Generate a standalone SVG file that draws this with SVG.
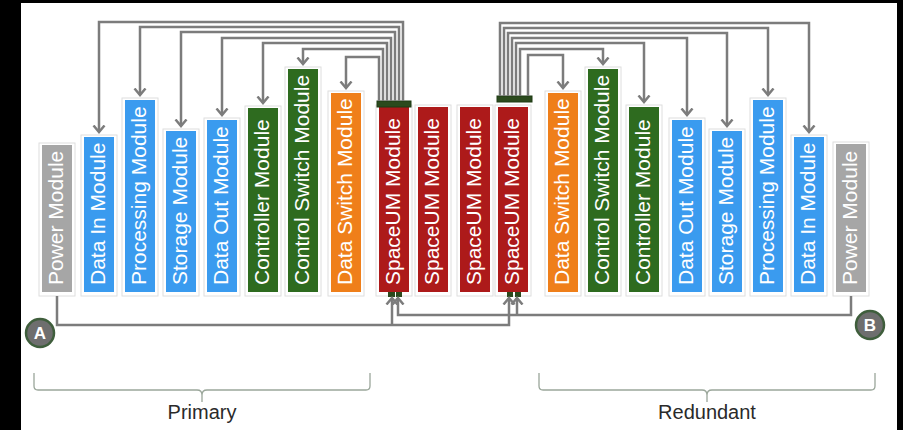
<svg xmlns="http://www.w3.org/2000/svg" width="903" height="430" viewBox="0 0 903 430">
  <defs>
    <style>
      .card { fill: #ffffff; stroke: #dedede; stroke-width: 1; }
      .power { fill: #a6a6a6; }
      .blue { fill: #3a9bef; }
      .green { fill: #2e6b1f; }
      .orange { fill: #ef7f1a; }
      .red { fill: #ad1a1a; }
      .lbl { font-family: "Liberation Sans", Arial, sans-serif; font-size: 21px; fill: #ffffff; }
      .wire { fill: none; stroke: #7c7c7c; stroke-width: 2.5; stroke-linejoin: miter; }
      .arrow { marker-end: url(#chev); }
      .bus { fill: #2b4a1d; stroke: #1f3a14; stroke-width: 1; }
      .pin { fill: #2b4a1d; }
      .badge { fill: #6e6e6e; stroke: #3f5e3c; stroke-width: 2.5; }
      .badge-t { font-family: "Liberation Sans", Arial, sans-serif; font-size: 17px; font-weight: bold; fill: #ffffff; text-anchor: middle; }
      .brace { fill: none; stroke: #9aa69a; stroke-width: 1.3; }
      .cap { font-family: "Liberation Sans", Arial, sans-serif; font-size: 20px; fill: #2a2a2a; text-anchor: middle; }
    </style>
    <marker id="chev" markerUnits="userSpaceOnUse" markerWidth="14" markerHeight="14" refX="7" refY="7" orient="auto" viewBox="0 0 14 14">
      <path d="M0.5,1.5 L7,7 L0.5,12.5" fill="none" stroke="#7c7c7c" stroke-width="2.5"/>
    </marker>
  </defs>

  <!-- frame -->
  <rect x="0" y="0" width="903" height="430" fill="#000000"/>
  <rect x="21" y="3" width="876" height="427" fill="#ffffff"/>

  <!-- Primary side modules -->
  <g id="power-a">
    <rect class="card" x="39" y="143" width="36" height="153"/>
    <rect class="power" x="42" y="145" width="30" height="147"/>
    <text class="lbl" transform="translate(63,285) rotate(-90)">Power Module</text>
  </g>
  <g id="data-in-a">
    <rect class="card" x="81" y="135" width="36" height="161"/>
    <rect class="blue" x="84" y="137" width="30" height="155"/>
    <text class="lbl" transform="translate(105,285) rotate(-90)">Data In Module</text>
  </g>
  <g id="processing-a">
    <rect class="card" x="122" y="98" width="36" height="198"/>
    <rect class="blue" x="125" y="100" width="30" height="192"/>
    <text class="lbl" transform="translate(146,285) rotate(-90)">Processing Module</text>
  </g>
  <g id="storage-a">
    <rect class="card" x="163" y="129" width="36" height="167"/>
    <rect class="blue" x="166" y="131" width="30" height="161"/>
    <text class="lbl" transform="translate(187,285) rotate(-90)">Storage Module</text>
  </g>
  <g id="data-out-a">
    <rect class="card" x="204" y="118" width="36" height="178"/>
    <rect class="blue" x="207" y="120" width="30" height="172"/>
    <text class="lbl" transform="translate(228,285) rotate(-90)">Data Out Module</text>
  </g>
  <g id="controller-a">
    <rect class="card" x="245" y="106" width="36" height="190"/>
    <rect class="green" x="248" y="108" width="30" height="184"/>
    <text class="lbl" transform="translate(269,285) rotate(-90)">Controller Module</text>
  </g>
  <g id="control-switch-a">
    <rect class="card" x="285" y="67" width="36" height="229"/>
    <rect class="green" x="288" y="69" width="30" height="223"/>
    <text class="lbl" transform="translate(309,285) rotate(-90)">Control Switch Module</text>
  </g>
  <g id="data-switch-a">
    <rect class="card" x="328" y="91" width="36" height="205"/>
    <rect class="orange" x="331" y="93" width="30" height="199"/>
    <text class="lbl" transform="translate(352,285) rotate(-90)">Data Switch Module</text>
  </g>

  <!-- SpaceUM modules -->
  <g id="spaceum-1">
    <rect class="card" x="376" y="105" width="36" height="191"/>
    <rect class="red" x="379" y="107" width="30" height="185"/>
    <rect class="bus" x="377" y="101" width="34" height="6"/>
    <rect class="pin" x="388" y="292" width="7" height="5"/>
    <rect class="pin" x="396" y="292" width="6" height="5"/>
    <text class="lbl" transform="translate(400,285) rotate(-90)">SpaceUM Module</text>
  </g>
  <g id="spaceum-2">
    <rect class="card" x="415" y="105" width="36" height="191"/>
    <rect class="red" x="418" y="107" width="30" height="185"/>
    <text class="lbl" transform="translate(439,285) rotate(-90)">SpaceUM Module</text>
  </g>
  <g id="spaceum-3">
    <rect class="card" x="457" y="105" width="36" height="191"/>
    <rect class="red" x="460" y="107" width="30" height="185"/>
    <text class="lbl" transform="translate(481,285) rotate(-90)">SpaceUM Module</text>
  </g>
  <g id="spaceum-4">
    <rect class="card" x="495" y="105" width="36" height="191"/>
    <rect class="red" x="498" y="107" width="30" height="185"/>
    <rect class="bus" x="497" y="96" width="35" height="6"/>
    <rect class="pin" x="507" y="292" width="6" height="5"/>
    <rect class="pin" x="515" y="292" width="6" height="5"/>
    <text class="lbl" transform="translate(519,285) rotate(-90)">SpaceUM Module</text>
  </g>

  <!-- Redundant side modules -->
  <g id="data-switch-b">
    <rect class="card" x="545" y="91" width="36" height="205"/>
    <rect class="orange" x="548" y="93" width="30" height="199"/>
    <text class="lbl" transform="translate(569,285) rotate(-90)">Data Switch Module</text>
  </g>
  <g id="control-switch-b">
    <rect class="card" x="585" y="67" width="36" height="229"/>
    <rect class="green" x="588" y="69" width="30" height="223"/>
    <text class="lbl" transform="translate(609,285) rotate(-90)">Control Switch Module</text>
  </g>
  <g id="controller-b">
    <rect class="card" x="626" y="105" width="36" height="191"/>
    <rect class="green" x="629" y="107" width="30" height="185"/>
    <text class="lbl" transform="translate(650,285) rotate(-90)">Controller Module</text>
  </g>
  <g id="data-out-b">
    <rect class="card" x="669" y="118" width="36" height="178"/>
    <rect class="blue" x="672" y="120" width="30" height="172"/>
    <text class="lbl" transform="translate(693,285) rotate(-90)">Data Out Module</text>
  </g>
  <g id="storage-b">
    <rect class="card" x="709" y="129" width="36" height="167"/>
    <rect class="blue" x="712" y="131" width="30" height="161"/>
    <text class="lbl" transform="translate(733,285) rotate(-90)">Storage Module</text>
  </g>
  <g id="processing-b">
    <rect class="card" x="750" y="98" width="36" height="198"/>
    <rect class="blue" x="753" y="100" width="30" height="192"/>
    <text class="lbl" transform="translate(774,285) rotate(-90)">Processing Module</text>
  </g>
  <g id="data-in-b">
    <rect class="card" x="791" y="135" width="36" height="161"/>
    <rect class="blue" x="794" y="137" width="30" height="155"/>
    <text class="lbl" transform="translate(815,285) rotate(-90)">Data In Module</text>
  </g>
  <g id="power-b">
    <rect class="card" x="833" y="142" width="36" height="154"/>
    <rect class="power" x="836" y="144" width="30" height="148"/>
    <text class="lbl" transform="translate(857,285) rotate(-90)">Power Module</text>
  </g>

  <!-- connectors -->
  <g id="connectors">
    <!-- primary SpaceUM bus to each primary module -->
    <path class="wire arrow" d="M403,101 V22 H99 V132"/>
    <path class="wire arrow" d="M399,101 V27 H140 V95"/>
    <path class="wire arrow" d="M395,101 V32 H181 V126"/>
    <path class="wire arrow" d="M391,101 V38 H222 V115"/>
    <path class="wire arrow" d="M387,101 V43 H263 V103"/>
    <path class="wire arrow" d="M383,101 V49 H303 V64"/>
    <path class="wire arrow" d="M379,101 V57 H346 V88"/>
    <!-- redundant SpaceUM bus to each redundant module -->
    <path class="wire arrow" d="M500,96 V23 H809 V132"/>
    <path class="wire arrow" d="M504,96 V28 H768 V95"/>
    <path class="wire arrow" d="M508,96 V33 H727 V126"/>
    <path class="wire arrow" d="M512,96 V38 H687 V115"/>
    <path class="wire arrow" d="M516,96 V43 H644 V102"/>
    <path class="wire arrow" d="M520,96 V49 H603 V64"/>
    <path class="wire arrow" d="M528,96 V55 H563 V88"/>
    <!-- power feeds -->
    <path class="wire arrow" d="M57,296 V325 H509 V298"/>
    <path class="wire arrow" d="M392,325 V298"/>
    <path class="wire arrow" d="M851,296 V315 H398 V298"/>
    <path class="wire arrow" d="M517,315 V298"/>
  </g>

  <g id="badge-a">
    <circle class="badge" cx="40" cy="333" r="14"/>
    <text class="badge-t" x="40" y="339">A</text>
  </g>
  <g id="badge-b">
    <circle class="badge" cx="870" cy="325" r="14"/>
    <text class="badge-t" x="870" y="331">B</text>
  </g>

  <g id="group-primary">
    <path class="brace" d="M34,373 V386 Q34,390 38,390 H197 Q202,390 202,395 V402 M202,395 Q202,390 207,390 H366 Q370,390 370,386 V373"/>
    <text class="cap" x="202" y="419">Primary</text>
  </g>
  <g id="group-redundant">
    <path class="brace" d="M539,373 V386 Q539,390 543,390 H702 Q707,390 707,395 V402 M707,395 Q707,390 712,390 H871 Q875,390 875,386 V373"/>
    <text class="cap" x="707" y="419">Redundant</text>
  </g>
</svg>
